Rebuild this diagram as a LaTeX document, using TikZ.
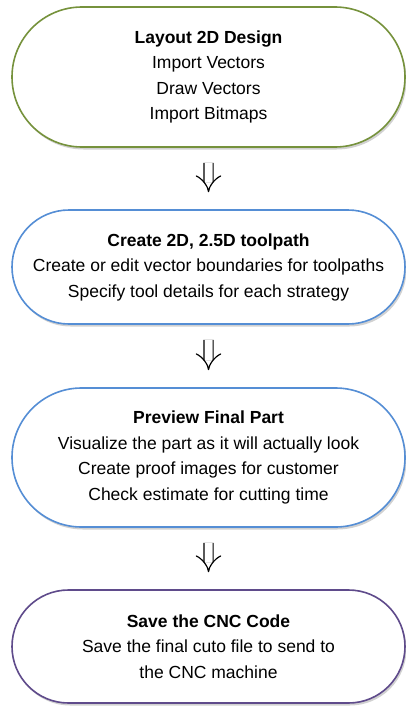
\documentclass[tikz,border=0pt]{standalone}
\usepackage{fontspec}
\setmainfont{Liberation Sans}
\usetikzlibrary{shapes.misc,shadows,arrows.meta}

\definecolor{stepgreen}{HTML}{76923C}
\definecolor{stepblue}{HTML}{558ED5}
\definecolor{steppurple}{HTML}{5F4B8B}

\begin{document}
\begin{tikzpicture}[
        x=1pt, y=1pt,
        stage/.style={
            rounded rectangle,
            draw,
            line width=1.6pt,
            fill=white,
            align=center,
            minimum width=393pt,
            font=\fontsize{17.5}{25.5}\selectfont,
            inner sep=0pt,
            drop shadow={shadow xshift=1.5pt, shadow yshift=-2.5pt, opacity=0.18, fill=black}
        },
        flow/.style={
            double,
            double distance=8pt,
            line width=1.2pt,
            -{Implies},
            shorten <=15pt,
            shorten >=17pt
        }
    ]

        \useasboundingbox (0,0) rectangle (406,-706);

        \node[stage, draw=stepgreen, minimum height=140pt] (layout) at (208.5,-77)
            {\textbf{Layout 2D Design}\\Import Vectors\\Draw Vectors\\Import Bitmaps};
        \node[stage, draw=stepblue, minimum height=114pt] (toolpath) at (208.5,-267)
            {\textbf{Create 2D, 2.5D toolpath}\\Create or edit vector boundaries for toolpaths\\Specify tool details for each strategy};
        \node[stage, draw=stepblue, minimum height=139pt] (preview) at (208.5,-457.5)
            {\textbf{Preview Final Part}\\Visualize the part as it will actually look\\Create proof images for customer\\Check estimate for cutting time};
        \node[stage, draw=steppurple, minimum height=113pt] (save) at (208.5,-646.5)
            {\textbf{Save the CNC Code}\\Save the final cuto file to send to\\the CNC machine};

        \draw[flow] (layout) -- (toolpath);
        \draw[flow] (toolpath) -- (preview);
        \draw[flow] (preview) -- (save);

    \end{tikzpicture}
\end{document}
